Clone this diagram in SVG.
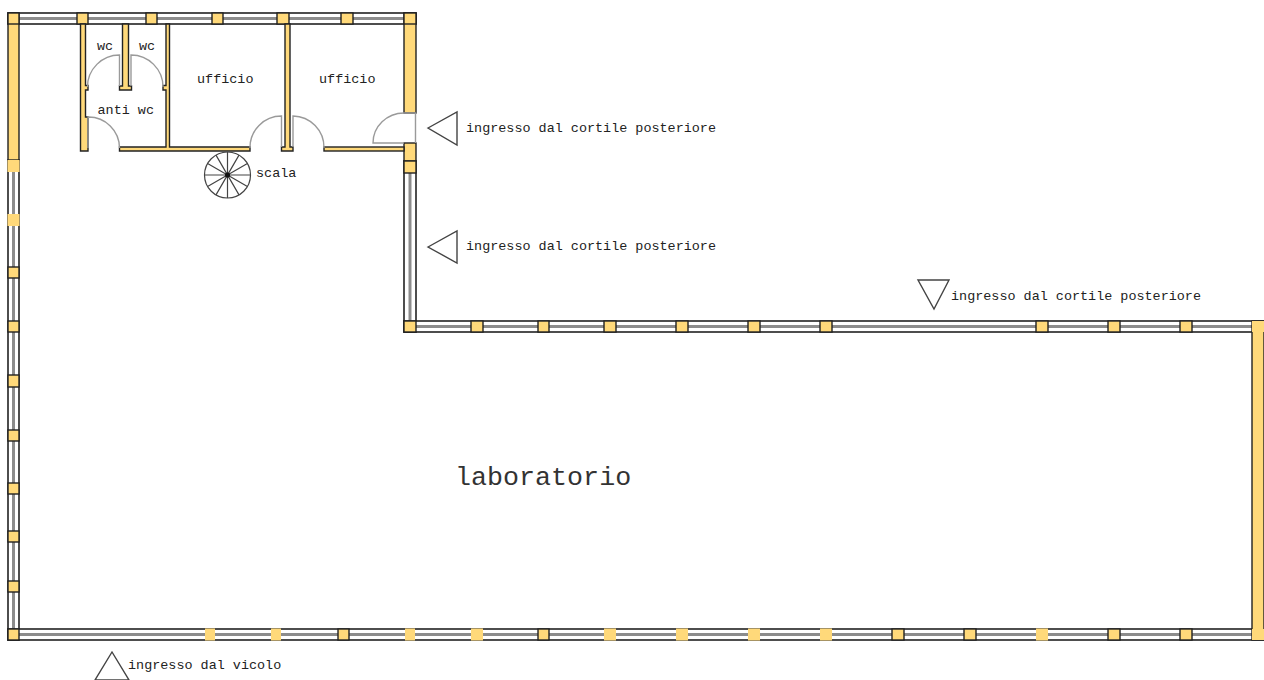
<svg xmlns="http://www.w3.org/2000/svg" width="1264" height="680" viewBox="0 0 1264 680">
<style>
text{font-family:"Liberation Mono","Courier New",monospace;font-size:13.45px;fill:#222}
.w{fill:#fff;stroke:#222;stroke-width:1.6}
.c{stroke:#8c8c8c;stroke-width:3;fill:none}
.y{fill:#ffd97a;stroke:#222;stroke-width:1.4}
.p{fill:#ffd97a}
.d{fill:none;stroke:#9a9a9a;stroke-width:1.4}
.t{fill:#fff;stroke:#444;stroke-width:1.4}
.s{stroke:#444;stroke-width:1.2;fill:none}
</style>
<g id="walls">
<rect class="w" x="8" y="13" width="408" height="11"/><path class="c" d="M8 18.5H416"/>
<rect class="w" x="8" y="160" width="11" height="480"/><path class="c" d="M13.5 160V640"/>
<rect class="w" x="404" y="161" width="12" height="171"/><path class="c" d="M410 161V332"/>
<rect class="w" x="404" y="321" width="860" height="11"/><path class="c" d="M404 326.500H1264"/>
<rect class="w" x="8" y="629" width="1256" height="11"/><path class="c" d="M8 634.500H1264"/>
<rect class="y" x="8" y="13" width="11" height="147"/>
<rect class="y" x="404" y="13" width="12" height="100"/>
<rect class="y" x="1252" y="321" width="12" height="319"/>
</g>
<g id="window-posts">
<rect class="y" x="8" y="13" width="11" height="11"/><rect class="y" x="77" y="13" width="11" height="11"/><rect class="y" x="146" y="13" width="11" height="11"/><rect class="y" x="212" y="13" width="11" height="11"/><rect class="y" x="277" y="13" width="12" height="11"/><rect class="y" x="341" y="13" width="12" height="11"/><rect class="y" x="404" y="13" width="12" height="11"/>
<rect class="p" x="7.500" y="160" width="12" height="12"/><rect class="p" x="7.500" y="214" width="12" height="12"/>
<rect class="y" x="8" y="267" width="11" height="11"/><rect class="y" x="8" y="321" width="11" height="11"/><rect class="y" x="8" y="375" width="11" height="12"/><rect class="y" x="8" y="430" width="11" height="11"/><rect class="y" x="8" y="483" width="11" height="11"/><rect class="y" x="8" y="531" width="11" height="11"/><rect class="y" x="8" y="581" width="11" height="11"/><rect class="y" x="8" y="629" width="11" height="11"/>
<rect class="y" x="404" y="143" width="12" height="18"/><rect class="y" x="404" y="161" width="12" height="12"/><rect class="y" x="404" y="321" width="12" height="11"/>
<rect class="y" x="471" y="321" width="12" height="11"/><rect class="y" x="538" y="321" width="11" height="11"/><rect class="y" x="604" y="321" width="12" height="11"/><rect class="y" x="676" y="321" width="12" height="11"/><rect class="y" x="748" y="321" width="12" height="11"/><rect class="y" x="820" y="321" width="12" height="11"/><rect class="y" x="1036" y="321" width="12" height="11"/><rect class="y" x="1108" y="321" width="12" height="11"/><rect class="y" x="1180" y="321" width="12" height="11"/><rect class="p" x="1252" y="321" width="12" height="11"/>
<rect class="p" x="205" y="628.500" width="10" height="12"/><rect class="p" x="271" y="628.500" width="10" height="12"/><rect class="y" x="338" y="629" width="11" height="11"/><rect class="p" x="405" y="628.500" width="10" height="12"/><rect class="p" x="471" y="628.500" width="12" height="12"/><rect class="y" x="538" y="629" width="11" height="11"/><rect class="p" x="604" y="628.500" width="12" height="12"/><rect class="p" x="676" y="628.500" width="12" height="12"/><rect class="p" x="748" y="628.500" width="12" height="12"/><rect class="p" x="820" y="628.500" width="12" height="12"/><rect class="y" x="892" y="629" width="12" height="11"/><rect class="y" x="964" y="629" width="12" height="11"/><rect class="p" x="1036" y="628.500" width="12" height="12"/><rect class="y" x="1108" y="629" width="12" height="11"/><rect class="y" x="1180" y="629" width="12" height="11"/><rect class="p" x="1252" y="629" width="12" height="11"/>
</g>
<g id="partitions">
<path class="y" d="M80.500 24H85.500V85.500H88V90H85.500V117H88V151H80.500Z"/>
<path class="y" d="M122.500 24H128.500V86H131.500V90H119.500V86H122.500Z"/>
<path class="y" d="M166 24H169.500V147H250V151H119.500V147H166V90H163V85.500H166Z"/>
<path class="y" d="M285 24H290V147H293V151H281.500V147H285Z"/>
<rect class="y" x="324" y="147" width="80" height="4"/>
</g>
<g id="doors">
<path class="d" d="M119.500 86V55A32 32 0 0 0 87.500 87"/>
<path class="d" d="M131 86V55A32 32 0 0 1 163 87"/>
<path class="d" d="M88 148V117A31 31 0 0 1 119.500 148"/>
<path class="d" d="M281.500 147V116A31.500 31.500 0 0 0 250 148"/>
<path class="d" d="M293 147V116A31.500 31.500 0 0 1 324 148"/>
<path class="d" d="M404 143H373A31 30 0 0 1 404 113H415.500V143"/>
</g>
<g id="stair">
<circle class="s" cx="227.500" cy="175" r="23"/>
<path class="s" d="M204.500 175H250.500M227.500 152V198M207.600 163.500L247.400 186.500M207.600 186.500L247.400 163.500M216 155.100L239 194.900M216 194.900L239 155.100"/>
<circle cx="227.500" cy="175" r="2.500" fill="#111"/>
</g>
<g id="entrances">
<path class="t" d="M428 128L457 112V145Z"/>
<path class="t" d="M428 247L457 231V263Z"/>
<path class="t" d="M918 280H949L934 309Z"/>
<path class="t" d="M112 652L95 680H129Z"/>
</g>
<g id="labels">
<text x="97" y="50">wc</text>
<text x="139" y="50">wc</text>
<text x="97.500" y="114">anti wc</text>
<text x="197" y="83">ufficio</text>
<text x="319" y="83">ufficio</text>
<text x="256" y="177">scala</text>
<text x="466" y="132">ingresso dal cortile posteriore</text>
<text x="466" y="250">ingresso dal cortile posteriore</text>
<text x="951" y="300">ingresso dal cortile posteriore</text>
<text x="128" y="669">ingresso dal vicolo</text>
<text x="455" y="485" style="font-size:26.700px;fill:#333">laboratorio</text>
</g>
</svg>
